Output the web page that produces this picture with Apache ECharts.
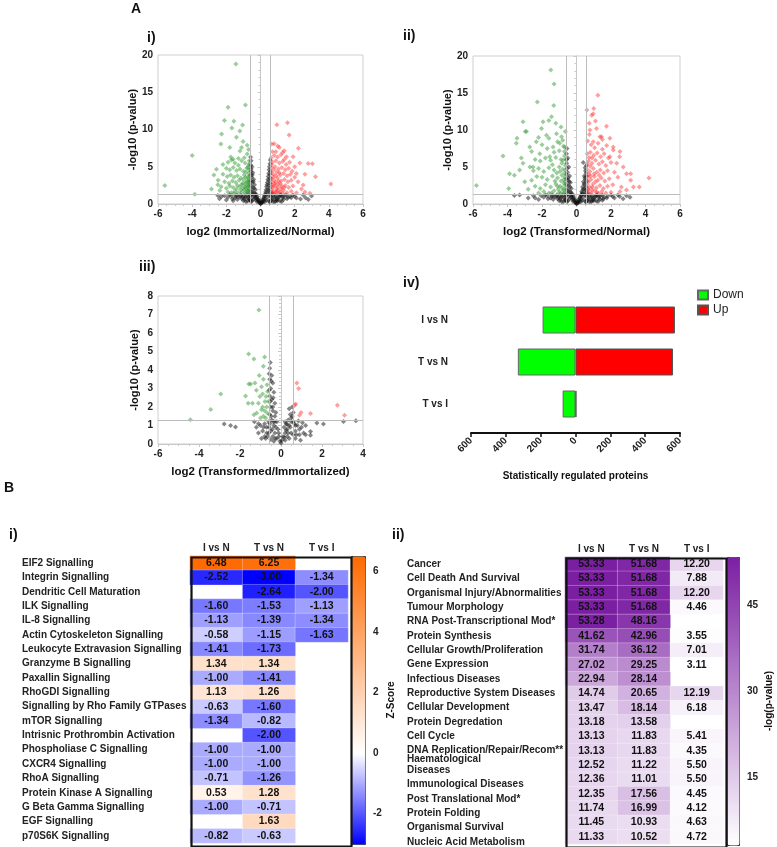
<!DOCTYPE html>
<html>
<head>
<meta charset="utf-8">
<script src="https://cdn.jsdelivr.net/npm/echarts@6/dist/echarts.min.js"></script>
<style>
html, body { margin: 0; padding: 0; background: #fff; }
#chart { width: 777px; height: 847px; }
</style>
</head>
<body>
<div id="chart"></div>
<script>
var FONT = 'Liberation Sans, Arial, sans-serif';

// ---------- A: volcano plots ----------
var fcCut = 0.585;   // log2(1.5)
var pCut = 1.3;      // -log10(0.05)

// i) Immortalized / Normal
var v1Down = [[-5.6,2.5],[-4.0,6.5],[-3.85,1.3],[-1.44,18.8],[-1.9,13.0],[-0.88,13.3],[-2.11,11.2],[-1.56,11.1],[-1.05,10.6],
  [-2.28,9.4],[-1.68,10.2],[-1.21,9.8],[-1.41,8.95],[-1.02,8.4],[-2.32,8.05],[-1.8,7.6],[-1.11,7.6],[-0.78,7.9],[-1.74,6.3],
  [-1.29,6.1],[-0.78,6.7],[-2.58,4.65],[-2.73,3.9],[-2.48,3.2],[-2.87,2.0],[-2.38,1.8],
  [-1.9,5.6],[-1.7,5.9],[-1.5,5.5],[-1.3,5.2],[-1.1,5.8],[-0.9,5.5],[-0.7,5.2],[-0.65,4.6],
  [-2.0,4.8],[-1.8,4.6],[-1.6,4.9],[-1.4,4.5],[-1.2,4.7],[-1.0,4.4],[-0.8,4.8],[-0.7,4.1],
  [-2.2,4.0],[-1.95,3.7],[-1.75,3.9],[-1.55,3.6],[-1.35,3.8],[-1.15,3.5],[-0.95,3.9],[-0.75,3.6],[-0.65,3.2],
  [-2.1,3.0],[-1.85,2.8],[-1.65,3.1],[-1.45,2.9],[-1.25,3.2],[-1.05,2.8],[-0.85,3.0],[-0.7,2.6],
  [-2.3,2.3],[-2.0,2.1],[-1.8,2.4],[-1.6,2.2],[-1.4,2.0],[-1.2,2.3],[-1.0,2.1],[-0.8,2.4],[-0.66,2.0],
  [-1.9,1.6],[-1.7,1.5],[-1.5,1.7],[-1.3,1.5],[-1.1,1.6],[-0.9,1.5],[-0.75,1.7],[-0.62,1.45],
  [-2.5,2.6],[-2.2,5.3],[-1.6,6.0],[-0.95,6.2],[-1.2,7.1],[-0.7,7.3],[-0.66,5.8],
  [-0.9,2.7],[-0.8,1.9],[-0.72,3.4],[-0.68,2.9],[-1.0,3.3],[-0.85,4.3],[-0.62,3.8],[-0.78,2.2],[-0.95,1.9],[-1.1,2.6],[-0.7,1.5],[-0.65,2.4],
  [-0.64,5.4],[-0.74,4.9],[-0.88,3.6],[-0.62,2.7],[-0.76,3.0],[-0.92,2.3],[-0.69,1.8],[-1.15,1.9],[-1.35,2.5],[-1.55,1.4],[-0.82,1.4]];
var v1Up = [[0.96,10.65],[1.58,10.9],[1.68,9.26],[0.66,8.05],[0.8,8.1],[1.01,7.8],[2.22,7.5],[1.39,7.16],[1.52,6.35],[1.91,6.35],
  [2.3,5.5],[2.79,5.45],[3.04,5.4],[3.22,3.67],[4.12,2.68],[2.5,2.55],[2.89,1.43],[2.1,4.1],
  [0.62,6.2],[0.8,6.5],[1.0,6.3],[1.2,6.6],[1.4,6.0],[0.7,5.6],[0.9,5.8],[1.1,5.5],[1.3,5.7],[1.5,5.3],[1.7,5.6],
  [0.65,4.9],[0.85,5.0],[1.05,4.7],[1.25,4.9],[1.45,4.6],[1.65,4.8],[1.85,4.4],
  [0.6,4.2],[0.75,4.0],[0.95,4.3],[1.15,3.9],[1.35,4.1],[1.55,3.8],[1.75,4.0],[2.0,3.6],
  [0.62,3.4],[0.8,3.2],[1.0,3.5],[1.2,3.1],[1.4,3.3],[1.6,3.0],[1.8,3.2],[2.2,3.0],
  [0.66,2.6],[0.85,2.4],[1.05,2.7],[1.25,2.3],[1.45,2.5],[1.65,2.2],[1.9,2.4],[2.4,2.0],
  [0.6,1.9],[0.78,1.7],[0.95,2.0],[1.15,1.6],[1.35,1.8],[1.55,1.5],[1.8,1.7],[2.1,1.5],
  [0.7,1.4],[0.9,1.35],[1.1,1.45],[1.3,1.4],[2.6,1.6],[0.65,3.0],[0.72,2.2],[0.68,1.6],[0.9,3.8],[0.78,4.6],[1.1,4.2],
  [0.88,2.9],[1.0,1.8],[1.2,2.0],[1.05,3.1],[0.7,7.0],[1.1,7.6],[0.9,7.0],[1.3,6.9],[2.0,5.0],[2.6,4.0],
  [0.64,5.3],[0.74,3.6],[0.82,2.7],[0.66,2.3],[0.92,1.6],[1.02,2.3],[0.76,1.35],[1.18,2.7],[1.38,2.2],[0.63,1.5]];
var v1NS = [[-0.55,5.8],[-0.5,5.0],[-0.56,4.4],[-0.45,4.2],[-0.52,3.6],[-0.4,3.3],[-0.5,2.9],[-0.35,2.6],[-0.45,2.2],[-0.3,1.9],
  [-0.55,1.8],[-0.4,1.5],[-0.25,1.3],[-0.2,1.0],[-0.15,0.7],[-0.1,0.4],[-0.05,0.2],[-0.35,1.1],[-0.5,1.3],[-0.3,0.8],[-0.45,0.9],
  [-0.25,0.5],[-0.2,0.3],[-0.4,0.6],
  [0.55,5.4],[0.5,4.6],[0.56,4.0],[0.45,3.7],[0.52,3.2],[0.4,2.9],[0.5,2.5],[0.35,2.3],[0.45,1.9],[0.3,1.6],[0.55,1.5],[0.38,1.3],
  [0.25,1.1],[0.2,0.8],[0.15,0.5],[0.1,0.3],[0.05,0.1],[0.0,0.05],[0.3,0.7],[0.45,1.0],[0.35,0.5],[0.25,0.3],
  [-0.6,1.1],[-0.7,0.9],[-0.8,1.2],[-0.9,0.8],[-1.0,1.1],[-1.1,0.7],[-1.2,1.0],[-1.4,1.2],[-1.5,0.8],[-1.7,1.1],[-1.9,0.9],
  [-2.0,0.55],[-2.28,1.0],[-1.6,0.45],[-2.5,1.15],[-0.65,0.6],[-0.75,0.4],[-0.55,0.3],
  [0.6,1.0],[0.7,1.2],[0.8,0.8],[0.9,1.1],[1.0,0.7],[1.1,1.0],[1.2,1.2],[1.3,0.8],[1.4,1.1],[1.6,0.9],[1.72,1.0],[1.9,1.2],
  [2.1,0.8],[2.34,0.67],[2.63,0.85],[2.99,1.07],[0.65,0.5],[0.75,0.3],[0.55,0.25],[0.9,0.45],[1.15,0.4],
  [-0.58,6.3],[-0.57,5.2],[-0.54,4.7],[-0.58,3.9],[-0.48,3.9],[-0.58,3.1],[-0.42,3.0],[-0.56,2.4],[-0.38,2.1],[-0.5,1.6],
  [-0.33,1.4],[-0.28,1.1],[-0.22,0.75],[-0.12,0.55],[-0.08,0.3],[-0.02,0.1],
  [0.57,5.9],[0.52,5.0],[0.58,4.4],[0.48,4.1],[0.57,3.5],[0.43,3.3],[0.56,2.8],[0.38,2.6],[0.52,2.1],[0.33,1.9],[0.48,1.7],
  [0.28,1.35],[0.22,1.0],[0.12,0.6],[0.08,0.2],[0.18,0.35],
  [-0.62,1.25],[-0.68,0.75],[-0.85,1.0],[-0.95,0.6],[-1.05,0.9],[-1.15,1.2],[-1.3,0.95],[-1.35,0.6],[-1.45,1.05],[-1.65,0.7],
  [-1.8,1.25],[-2.1,1.1],[-2.4,0.7],[-0.6,0.5],[-0.85,0.3],[-1.0,0.45],[-0.5,0.45],
  [0.62,1.25],[0.68,0.75],[0.85,1.0],[0.95,0.6],[1.05,0.9],[1.15,1.2],[1.3,1.05],[1.35,0.6],[1.5,1.2],[1.55,0.7],[1.8,0.85],
  [2.0,1.05],[2.5,1.2],[2.8,0.6],[0.6,0.5],[0.85,0.3],[1.0,0.45],[0.5,0.4],[1.25,0.35]];

// ii) Transformed / Normal
var v2Down = [[-1.49,18.1],[-1.3,16.2],[-2.27,13.8],[-1.32,13.3],[-3.1,11.1],[-1.94,11.1],[-1.45,11.8],[-1.6,11.3],[-1.2,10.9],
  [-3.45,8.9],[-2.9,9.8],[-2.6,7.1],[-4.26,6.5],[-3.2,6.2],[-3.88,4.1],[-3.6,3.9],[-5.8,2.5],[-3.93,2.1],[-2.7,5.0],[-2.3,3.7],
  [-2.03,10.2],[-1.74,9.3],[-1.16,9.5],[-0.87,9.1],[-2.33,8.4],[-2.71,7.7],[-1.36,7.7],[-0.97,8.2],[-0.68,7.7],[-2.13,6.8],
  [-1.55,6.4],[-3.1,5.5],[-2.52,5.0],[-3.49,8.2],[-2.97,9.8],
  [-2.4,6.0],[-2.1,5.8],[-1.8,6.2],[-1.5,5.9],[-1.2,6.3],[-0.9,6.0],[-0.7,6.5],
  [-2.5,4.5],[-2.2,4.8],[-1.9,4.4],[-1.6,4.9],[-1.3,4.6],[-1.0,5.0],[-0.8,4.7],[-0.65,5.2],
  [-2.6,3.2],[-2.0,3.6],[-1.7,3.3],[-1.4,3.8],[-1.1,3.5],[-0.85,3.9],[-0.68,3.6],
  [-2.4,2.4],[-2.1,2.1],[-1.8,2.6],[-1.5,2.3],[-1.2,2.7],[-0.95,2.4],[-0.72,2.8],[-0.62,2.2],
  [-2.2,1.5],[-1.9,1.7],[-1.6,1.5],[-1.3,1.8],[-1.0,1.6],[-0.78,1.9],[-0.64,1.5],
  [-1.0,7.2],[-1.3,7.0],[-0.75,7.8],[-1.7,7.5],[-2.0,8.0],[-0.8,8.6],[-1.1,8.4],[-0.65,9.8],[-0.9,10.4],[-1.6,8.9],[-2.2,9.0],
  [-3.0,3.0],[-3.3,4.6],[-2.8,2.0],[-0.7,4.2],[-0.9,3.1],[-1.05,2.0],[-0.75,1.4],[-0.66,3.0],[-1.15,4.2],[-0.85,5.5],[-1.4,5.3],
  [-0.62,6.0],[-0.7,7.1],
  [-0.64,4.6],[-0.74,3.3],[-0.82,2.2],[-0.66,2.6],[-0.92,1.5],[-1.1,2.4],[-0.78,5.9],[-0.96,4.4],[-1.25,3.1],[-1.45,1.5],[-0.68,1.8]];
var v2Up = [[1.24,14.7],[0.6,12.7],[1.0,12.9],[0.97,12.2],[1.74,10.5],[0.74,10.9],[1.36,9.1],[2.13,7.3],[2.5,6.4],[2.9,4.1],
  [3.14,4.1],[3.64,2.3],[4.2,3.5],
  [0.78,10.0],[1.16,10.2],[1.45,9.1],[1.94,8.9],[0.97,8.4],[2.13,7.7],[2.52,7.1],[1.94,6.4],[2.33,5.5],[2.71,5.0],[3.14,3.2],
  [3.3,2.3],[2.52,1.7],
  [0.65,8.5],[0.85,8.0],[1.05,7.6],[1.25,8.2],[1.5,7.4],[1.75,7.9],
  [0.62,6.8],[0.8,7.0],[1.0,6.6],[1.2,6.9],[1.4,6.4],[1.6,6.8],[1.85,6.2],
  [0.7,5.8],[0.9,5.5],[1.1,5.9],[1.3,5.4],[1.5,5.7],[1.7,5.2],[2.0,5.6],
  [0.6,4.7],[0.78,4.4],[0.98,4.8],[1.18,4.3],[1.38,4.6],[1.58,4.2],[1.8,4.5],[2.2,4.3],
  [0.64,3.6],[0.84,3.3],[1.04,3.7],[1.24,3.2],[1.44,3.5],[1.64,3.1],[1.9,3.4],[2.4,3.6],
  [0.6,2.6],[0.76,2.3],[0.96,2.7],[1.16,2.2],[1.36,2.5],[1.56,2.1],[1.8,2.4],[2.1,2.6],
  [0.66,1.6],[0.86,1.5],[1.06,1.8],[1.26,1.45],[1.46,1.7],[1.7,1.5],[2.0,1.6],[2.6,2.3],[2.9,1.9],
  [0.7,3.0],[0.68,2.0],[0.72,4.0],[0.9,6.2],[0.75,9.4],[1.1,11.2],[0.88,12.0],[1.5,8.7],[0.9,1.9],[1.1,3.0],[0.8,5.1],
  [0.63,5.4],[0.73,6.3],[0.82,3.8],[0.66,1.9],[0.92,2.3],[1.02,4.1],[0.76,1.4],[1.18,1.6],[1.32,3.9],[0.62,3.1]];
var v2NS = [[-0.55,7.5],[-0.5,6.2],[-0.57,5.5],[-0.45,5.0],[-0.52,4.3],[-0.4,3.8],[-0.5,3.2],[-0.35,2.9],[-0.45,2.5],[-0.3,2.1],
  [-0.55,2.0],[-0.4,1.7],[-0.25,1.4],[-0.2,1.1],[-0.15,0.8],[-0.1,0.5],[-0.05,0.2],[-0.35,1.2],[-0.5,1.4],[-0.3,0.9],[-0.45,1.0],
  [-0.25,0.6],[-0.2,0.35],[-0.4,0.7],
  [0.39,5.6],[0.5,4.9],[0.55,4.2],[0.45,3.8],[0.52,3.3],[0.4,3.0],[0.5,2.6],[0.35,2.3],[0.45,2.0],[0.3,1.7],[0.55,1.6],[0.38,1.35],
  [0.25,1.1],[0.2,0.8],[0.15,0.5],[0.1,0.3],[0.05,0.1],[0.0,0.05],[0.3,0.7],[0.45,1.0],[0.35,0.5],[0.25,0.3],
  [-0.6,1.1],[-0.7,0.9],[-0.8,1.2],[-0.9,0.8],[-1.0,1.1],[-1.1,0.7],[-1.2,1.0],[-1.4,1.2],[-1.5,0.8],[-1.7,1.1],[-1.9,0.9],
  [-2.2,0.6],[-2.5,1.1],[-2.8,0.8],[-3.3,1.2],[-3.6,1.15],[-0.65,0.5],[-0.75,0.35],[-0.55,0.3],
  [0.6,1.0],[0.7,1.2],[0.8,0.8],[0.9,1.1],[1.0,0.7],[1.1,1.0],[1.2,1.2],[1.3,0.8],[1.4,1.1],[1.6,0.9],[1.8,1.05],[2.0,1.2],
  [2.2,0.8],[2.5,1.0],[2.9,1.1],[3.1,0.9],[0.65,0.5],[0.75,0.3],[0.55,0.25],[0.9,0.45],[1.15,0.4],[1.5,0.5],
  [-0.58,6.8],[-0.56,6.0],[-0.54,4.8],[-0.58,4.0],[-0.48,3.5],[-0.58,3.4],[-0.42,3.0],[-0.56,2.6],[-0.38,2.3],[-0.5,1.8],
  [-0.33,1.6],[-0.28,1.2],[-0.22,0.85],[-0.12,0.55],[-0.08,0.3],[-0.02,0.1],
  [0.57,5.2],[0.52,4.5],[0.58,3.8],[0.48,3.5],[0.57,3.0],[0.43,2.7],[0.56,2.3],[0.38,2.0],[0.52,1.9],[0.33,1.5],[0.48,1.3],
  [0.28,1.25],[0.22,0.95],[0.12,0.6],[0.08,0.2],[0.18,0.35],
  [-0.62,1.25],[-0.68,0.7],[-0.85,1.0],[-0.95,0.6],[-1.05,0.9],[-1.15,1.2],[-1.3,0.95],[-1.35,0.6],[-1.45,1.05],[-1.65,0.7],
  [-1.8,1.25],[-2.05,1.1],[-2.4,0.8],[-0.6,0.5],[-0.85,0.3],[-1.0,0.45],[-0.5,0.45],
  [0.62,1.25],[0.68,0.75],[0.85,1.0],[0.95,0.6],[1.05,0.9],[1.15,1.2],[1.3,1.05],[1.35,0.6],[1.5,1.2],[1.55,0.7],[1.75,0.8],
  [2.1,1.0],[2.4,1.2],[2.7,0.7],[0.6,0.5],[0.85,0.3],[1.0,0.45],[0.5,0.4],[1.25,0.35]];

// iii) Transformed / Immortalized
var v3Down = [[-1.08,7.25],[-1.58,4.86],[-1.32,4.6],[-0.8,4.7],[-0.86,4.2],[-1.06,3.7],[-1.57,3.24],[-1.48,3.24],[-1.27,3.3],
  [-0.86,3.5],[-0.95,3.1],[-2.94,2.7],[-1.73,2.6],[-1.6,2.2],[-1.39,2.2],[-3.43,1.87],[-4.42,1.31],[-0.78,2.3],[-0.7,2.0],
  [-0.95,1.85],[-1.19,1.67],[-1.32,1.58],[-0.86,1.5],[-0.67,1.67],[-0.73,2.57],[-0.65,2.84],[-1.03,2.57],[-1.1,2.2],[-0.9,2.0],
  [-0.8,1.8],[-1.0,1.4],[-0.75,1.4],[-0.62,2.3],[-0.68,3.2],[-0.9,2.7],[-1.2,2.9]];
var v3Up = [[0.77,3.3],[0.86,3.0],[0.67,2.1],[0.72,2.16],[0.98,1.7],[0.9,1.55],[1.44,1.65],[2.75,2.1],[3.1,1.55]];
var v3NS = [[-2.77,1.08],[-2.46,1.0],[-2.22,0.92],[1.75,1.13],[2.07,1.08],[3.05,1.22],[3.65,1.26],[1.44,0.68],[1.44,0.47],
  [-0.52,4.4],[-0.55,4.1],[-0.45,3.7],[-0.55,3.5],[-0.4,3.3],[-0.5,3.0],[-0.35,2.8],[-0.55,2.6],[-0.45,2.4],[-0.3,2.2],[-0.5,2.0],
  [-0.4,1.8],[-0.55,1.6],[-0.3,1.5],[-0.45,1.3],[-0.2,1.2],[-0.35,1.0],[-0.55,1.1],[-0.15,0.8],[-0.3,0.6],[-0.5,0.7],[-0.1,0.4],
  [-0.2,0.3],[-0.4,0.4],[-0.05,0.15],
  [0.0,0.05],[0.05,0.2],[0.1,0.4],[0.2,0.6],[0.15,0.9],[0.3,0.8],[0.25,1.1],[0.4,1.0],[0.35,1.3],[0.5,1.2],[0.45,1.6],[0.55,1.5],
  [0.4,1.9],[0.55,2.0],[0.6,1.7],[0.3,0.4],[0.5,0.6],
  [-0.6,1.2],[-0.7,0.9],[-0.8,1.1],[-0.9,0.7],[-1.0,1.0],[-1.1,0.6],[-1.2,0.9],[-0.65,0.4],[-0.75,0.3],[-1.3,1.2],
  [0.65,1.1],[0.7,0.7],[0.8,1.0],[0.9,0.5],[1.0,0.9],[1.1,0.6],[1.2,1.0],[0.7,0.3],[0.85,1.25],
  [-0.58,3.8],[-0.48,3.4],[-0.58,2.9],[-0.38,2.5],[-0.52,2.3],[-0.25,1.7],[-0.48,1.5],[-0.38,1.2],[-0.58,0.9],[-0.25,0.9],
  [-0.42,0.8],[-0.12,0.6],[-0.28,0.3],[-0.5,0.25],[-0.35,0.15],[-0.6,0.6],[-0.4,2.0],[-0.3,1.2],
  [0.2,0.2],[0.15,0.35],[0.35,0.6],[0.45,0.9],[0.3,1.05],[0.5,1.4],[0.2,1.2],[0.6,1.2],[0.4,0.3],[0.6,0.5],[0.7,1.0],[0.25,0.75],
  [-0.7,0.6],[-0.85,0.9],[-0.95,0.3],[-1.1,1.1],[-0.8,0.4],[0.75,0.5],[0.9,0.8],[1.05,1.15],[0.95,0.2],[1.2,0.5]];

// iv) statistically regulated proteins
var cmpNames = ['I vs N', 'T vs N', 'T vs I'];
var downCounts = [189, 331, 74];
var upCounts = [571, 560, 5];

// ---------- B: IPA heatmaps ----------
var heatCols = ['I vs N', 'T vs N', 'T vs I'];

var pathways = ['EIF2 Signalling', 'Integrin Signalling', 'Dendritic Cell Maturation', 'ILK Signalling', 'IL-8 Signalling',
  'Actin Cytoskeleton Signalling', 'Leukocyte Extravasion Signalling', 'Granzyme B Signalling', 'Paxallin Signalling',
  'RhoGDI Signalling', 'Signalling by Rho Family GTPases', 'mTOR Signalling', 'Intrisnic Prothrombin Activation',
  'Phospholiase C Signalling', 'CXCR4 Signalling', 'RhoA Signalling', 'Protein Kinase A Signalling',
  'G Beta Gamma Signalling', 'EGF Signalling', 'p70S6K Signalling'];
// null = not significant (blank cell)
var zIvsN = [6.48, -2.52, null, -1.60, -1.13, -0.58, -1.41, 1.34, -1.00, 1.13, -0.63, -1.34, null, -1.00, -1.00, -0.71, 0.53, -1.00, null, -0.82];
var zTvsN = [6.25, -3.00, -2.64, -1.53, -1.39, -1.15, -1.73, 1.34, -1.41, 1.26, -1.60, -0.82, -2.00, -1.00, -1.00, -1.26, 1.28, -0.71, 1.63, -0.63];
var zTvsI = [null, -1.34, -2.00, -1.13, -1.34, -1.63, null, null, null, null, null, null, null, null, null, null, null, null, null, null];

var functions = ['Cancer', 'Cell Death And Survival', 'Organismal Injury/Abnormalities', 'Tumour Morphology',
  'RNA Post-Transcriptional Mod*', 'Protein Synthesis', 'Cellular Growth/Proliferation', 'Gene Expression',
  'Infectious Diseases', 'Reproductive System Diseases', 'Cellular Development', 'Protein Degredation', 'Cell Cycle',
  'DNA Replication/Repair/Recom**', 'Haematological\nDiseases', 'Immunological Diseases', 'Post Translational Mod*',
  'Protein Folding', 'Organismal Survival', 'Nucleic Acid Metabolism'];
var pIvsN = [53.33, 53.33, 53.33, 53.33, 53.28, 41.62, 31.74, 27.02, 22.94, 14.74, 13.47, 13.18, 13.13, 13.13, 12.52, 12.36, 12.35, 11.74, 11.45, 11.33];
var pTvsN = [51.68, 51.68, 51.68, 51.68, 48.16, 42.96, 36.12, 29.25, 28.14, 20.65, 18.14, 13.58, 11.83, 11.83, 11.22, 11.01, 17.56, 16.99, 10.93, 10.52];
var pTvsI = [12.20, 7.88, 12.20, 4.46, null, 3.55, 7.01, 3.11, null, 12.19, 6.18, null, 5.41, 4.35, 5.50, 5.50, 4.45, 4.12, 4.63, 4.72];

var zTicks = [-2, 0, 2, 4, 6];
var pTicks = [15, 30, 45];

// tiny stand-in for jQuery extend
var $ = { extend: function (a, b) { for (var k in b) a[k] = b[k]; return a; } };

function toCells(cols) {
    var out = [];
    for (var c = 0; c < cols.length; c++) {
        for (var r = 0; r < cols[c].length; r++) {
            if (cols[c][r] !== null) out.push([c, r, cols[c][r]]);
        }
    }
    return out;
}

// z-score colours: blue -> white at 0 -> orange, sampled evenly from -3 to 6.5
function zColors() {
    var blue = [0, 0, 255], orange = [255, 106, 0], list = [];
    for (var v = -3; v <= 6.5001; v += 0.5) {
        var c = v < 0 ? blue : orange;
        var t = v < 0 ? -v / 3 : v / 6.5;
        list.push('rgb(' + Math.round(255 + (c[0] - 255) * t) + ',' + Math.round(255 + (c[1] - 255) * t) + ',' + Math.round(255 + (c[2] - 255) * t) + ')');
    }
    return list;
}

var boldLbl = { fontFamily: FONT, fontWeight: 'bold', fontSize: 10, color: '#222' };

function volcanoAxes(gi, xMin, xMax, yMax, yInt, xName) {
    var gray = { color: '#c8c8c8' };
    return {
        x: {
            gridIndex: gi, type: 'value', min: xMin, max: xMax, interval: 2,
            name: xName, nameLocation: 'middle', nameGap: 22,
            nameTextStyle: { fontFamily: FONT, fontWeight: 'bold', fontSize: 11.5, color: '#111' },
            axisLine: { show: true, lineStyle: gray }, axisTick: { show: true, lineStyle: gray, length: 3 },
            minorTick: { show: true, splitNumber: 4, length: 2, lineStyle: gray },
            axisLabel: $.extend({ margin: 5 }, boldLbl), splitLine: { show: false }
        },
        y: {
            gridIndex: gi, type: 'value', min: 0, max: yMax, interval: yInt,
            name: '-log10 (p-value)', nameLocation: 'middle', nameGap: 18, nameRotate: 90,
            nameTextStyle: { fontFamily: FONT, fontWeight: 'bold', fontSize: 11, color: '#111' },
            axisLine: { show: true, lineStyle: gray }, axisTick: { show: true, lineStyle: gray, length: 3 },
            minorTick: { show: true, splitNumber: 5, length: 2, lineStyle: gray },
            axisLabel: $.extend({ margin: 5 }, boldLbl), splitLine: { show: false }
        }
    };
}

function volcanoSeries(gi, ns, down, up) {
    var common = { type: 'scatter', xAxisIndex: gi, yAxisIndex: gi, symbol: 'diamond', symbolSize: 5, silent: true };
    return [
        $.extend({
            data: ns, itemStyle: { color: 'rgba(10,10,10,0.62)' },
            markLine: {
                silent: true, symbol: 'none', label: { show: false },
                lineStyle: { color: '#bdbdbd', type: 'solid', width: 1 },
                data: [{ xAxis: -fcCut }, { xAxis: fcCut }, { yAxis: pCut }]
            }
        }, $.extend({}, common)),
        $.extend({ data: down, itemStyle: { color: 'rgba(45,150,45,0.6)' } }, $.extend({}, common)),
        $.extend({ data: up, itemStyle: { color: 'rgba(255,35,35,0.55)' } }, $.extend({}, common))
    ];
}

var myChart = echarts.init(document.getElementById('chart'), null, { renderer: 'canvas' });

var a1 = volcanoAxes(0, -6, 6, 20, 5, 'log2 (Immortalized/Normal)');
var a2 = volcanoAxes(1, -6, 6, 20, 5, 'log2 (Transformed/Normal)');
var a3 = volcanoAxes(2, -6, 4, 8, 1, 'log2 (Transformed/Immortalized)');

var heatLabel = { show: true, fontFamily: FONT, fontWeight: 'bold', fontSize: 10.5, color: '#111',
    formatter: function (p) { return p.value[2].toFixed(2); } };

var option = {
    animation: false,
    textStyle: { fontFamily: FONT },
    grid: [
        { left: 158, top: 55, width: 205, height: 149, show: true, borderColor: '#cfcfcf', borderWidth: 1 },
        { left: 473, top: 56, width: 207, height: 148, show: true, borderColor: '#cfcfcf', borderWidth: 1 },
        { left: 158, top: 296, width: 205, height: 148, show: true, borderColor: '#cfcfcf', borderWidth: 1 },
        { left: 471, top: 299, width: 209, height: 126 },
        { left: 190, top: 556, width: 158, height: 287 },
        { left: 565, top: 557, width: 158, height: 287 },
        { left: 351, top: 556, width: 14, height: 288 },
        { left: 727, top: 557, width: 12, height: 288 }
    ],
    xAxis: [a1.x, a2.x, a3.x,
        {
            gridIndex: 3, type: 'value', min: -600, max: 600, interval: 200, offset: 8,
            name: 'Statistically regulated proteins', nameLocation: 'middle', nameGap: 38,
            nameTextStyle: { fontFamily: FONT, fontWeight: 'bold', fontSize: 10, color: '#111' },
            axisLine: { show: true, lineStyle: { color: '#111', width: 2 } },
            axisTick: { show: true, lineStyle: { color: '#111', width: 1.5 }, length: 4 },
            axisLabel: $.extend({ rotate: 45, margin: 6, formatter: function (v) { return Math.abs(v); } }, boldLbl),
            splitLine: { show: false }
        },
        {
            gridIndex: 4, type: 'category', data: heatCols, position: 'top',
            axisLine: { show: false }, axisTick: { show: false },
            axisLabel: $.extend({ margin: 3 }, boldLbl)
        },
        {
            gridIndex: 5, type: 'category', data: heatCols, position: 'top',
            axisLine: { show: false }, axisTick: { show: false },
            axisLabel: $.extend({ margin: 3 }, boldLbl)
        },
        { gridIndex: 6, type: 'value', show: false },
        { gridIndex: 7, type: 'value', show: false }
    ],
    yAxis: [a1.y, a2.y, a3.y,
        {
            gridIndex: 3, type: 'category', data: cmpNames, inverse: true,
            axisLine: { show: false }, axisTick: { show: false },
            axisLabel: $.extend({ margin: 23 }, $.extend({}, boldLbl, { fontSize: 10.5 }))
        },
        {
            gridIndex: 4, type: 'category', data: pathways, inverse: true,
            axisLine: { show: false }, axisTick: { show: false },
            axisLabel: $.extend({ margin: 168, align: 'left', interval: 0 }, $.extend({}, boldLbl, { fontSize: 9.8 }))
        },
        {
            gridIndex: 5, type: 'category', data: functions, inverse: true,
            axisLine: { show: false }, axisTick: { show: false },
            axisLabel: $.extend({
                margin: 158, align: 'left', interval: 0, lineHeight: 11,
                // rows below the two-line label sit a little lower in the original
                formatter: function (v, i) { return i >= 15 ? '{d|' + v + '}' : v; },
                rich: { d: { fontFamily: FONT, fontWeight: 'bold', fontSize: 10, color: '#222', padding: [10, 0, 0, 0] } }
            }, boldLbl)
        },
        {
            gridIndex: 6, type: 'value', min: -3, max: 6.5, position: 'right',
            name: 'Z-Score', nameLocation: 'middle', nameGap: 17, nameRotate: 90,
            nameTextStyle: { fontFamily: FONT, fontWeight: 'bold', fontSize: 10, color: '#111' },
            axisLine: { show: false },
            axisTick: { show: true, length: 5, lineStyle: { color: '#222' }, customValues: zTicks },
            axisLabel: $.extend({ margin: 8, customValues: zTicks }, boldLbl),
            splitLine: { show: false }
        },
        {
            gridIndex: 7, type: 'value', min: 3.1, max: 53.4, position: 'right',
            name: '-log(p-value)', nameLocation: 'middle', nameGap: 25, nameRotate: 90,
            nameTextStyle: { fontFamily: FONT, fontWeight: 'bold', fontSize: 10, color: '#111' },
            axisLine: { show: false },
            axisTick: { show: true, length: 5, lineStyle: { color: '#222' }, customValues: pTicks },
            axisLabel: $.extend({ margin: 8, customValues: pTicks }, boldLbl),
            splitLine: { show: false }
        }
    ],
    legend: {
        orient: 'vertical', left: 692, top: 284, itemWidth: 10, itemHeight: 9, itemGap: 3, icon: 'rect',
        data: ['Down', 'Up'],
        textStyle: { fontFamily: FONT, fontSize: 12, color: '#222' }
    },
    visualMap: [
        {
            type: 'continuous', seriesIndex: 11, min: -3, max: 6.5, calculable: false, hoverLink: false,
            left: 351, top: 556, itemWidth: 14, itemHeight: 288, padding: 0,
            borderColor: '#333', borderWidth: 1, inRange: { color: zColors() }
        },
        {
            type: 'continuous', seriesIndex: 12, min: 3.1, max: 53.4, calculable: false, hoverLink: false,
            left: 727, top: 557, itemWidth: 12, itemHeight: 288, padding: 0,
            borderColor: '#333', borderWidth: 1, inRange: { color: ['#ffffff', '#7b1fa2'] }
        }
    ],
    graphic: [
        { type: 'text', left: 131, top: 2, style: { text: 'A', font: 'bold 14px ' + FONT, fill: '#111' } },
        { type: 'text', left: 147, top: 31, style: { text: 'i)', font: 'bold 14px ' + FONT, fill: '#111' } },
        { type: 'text', left: 403, top: 29, style: { text: 'ii)', font: 'bold 14px ' + FONT, fill: '#111' } },
        { type: 'text', left: 139, top: 260, style: { text: 'iii)', font: 'bold 14px ' + FONT, fill: '#111' } },
        { type: 'text', left: 403, top: 276, style: { text: 'iv)', font: 'bold 14px ' + FONT, fill: '#111' } },
        { type: 'text', left: 4, top: 481, style: { text: 'B', font: 'bold 14px ' + FONT, fill: '#111' } },
        { type: 'text', left: 9, top: 528, style: { text: 'i)', font: 'bold 14px ' + FONT, fill: '#111' } },
        { type: 'text', left: 392, top: 528, style: { text: 'ii)', font: 'bold 14px ' + FONT, fill: '#111' } },
        { type: 'rect', left: 189, top: 555, z: 100, shape: { width: 160, height: 289 }, style: { fill: 'none', stroke: '#111', lineWidth: 2.2 } },
        { type: 'rect', left: 564, top: 556, z: 100, shape: { width: 160, height: 289 }, style: { fill: 'none', stroke: '#111', lineWidth: 2.2 } }
    ],
    series: [].concat(
        volcanoSeries(0, v1NS, v1Down, v1Up),
        volcanoSeries(1, v2NS, v2Down, v2Up),
        volcanoSeries(2, v3NS, v3Down, v3Up),
        [
            {
                name: 'Down', type: 'bar', xAxisIndex: 3, yAxisIndex: 3, barWidth: 27, barGap: '-100%',
                itemStyle: { color: '#00ff00', borderColor: '#666', borderWidth: 1 },
                data: downCounts.map(function (v) { return -v; })
            },
            {
                name: 'Up', type: 'bar', xAxisIndex: 3, yAxisIndex: 3, barWidth: 27,
                itemStyle: { color: '#ff0000', borderColor: '#555', borderWidth: 1 },
                data: upCounts
            },
            {
                type: 'heatmap', xAxisIndex: 4, yAxisIndex: 4, data: toCells([zIvsN, zTvsN, zTvsI]),
                label: heatLabel, itemStyle: { borderColor: 'rgba(255,255,255,0.5)', borderWidth: 0.5 }
            },
            {
                type: 'heatmap', xAxisIndex: 5, yAxisIndex: 5, data: toCells([pIvsN, pTvsN, pTvsI]),
                label: heatLabel, itemStyle: { borderColor: 'rgba(255,255,255,0.5)', borderWidth: 0.5 }
            }
        ]
    )
};

myChart.setOption(option);
</script>
</body>
</html>
